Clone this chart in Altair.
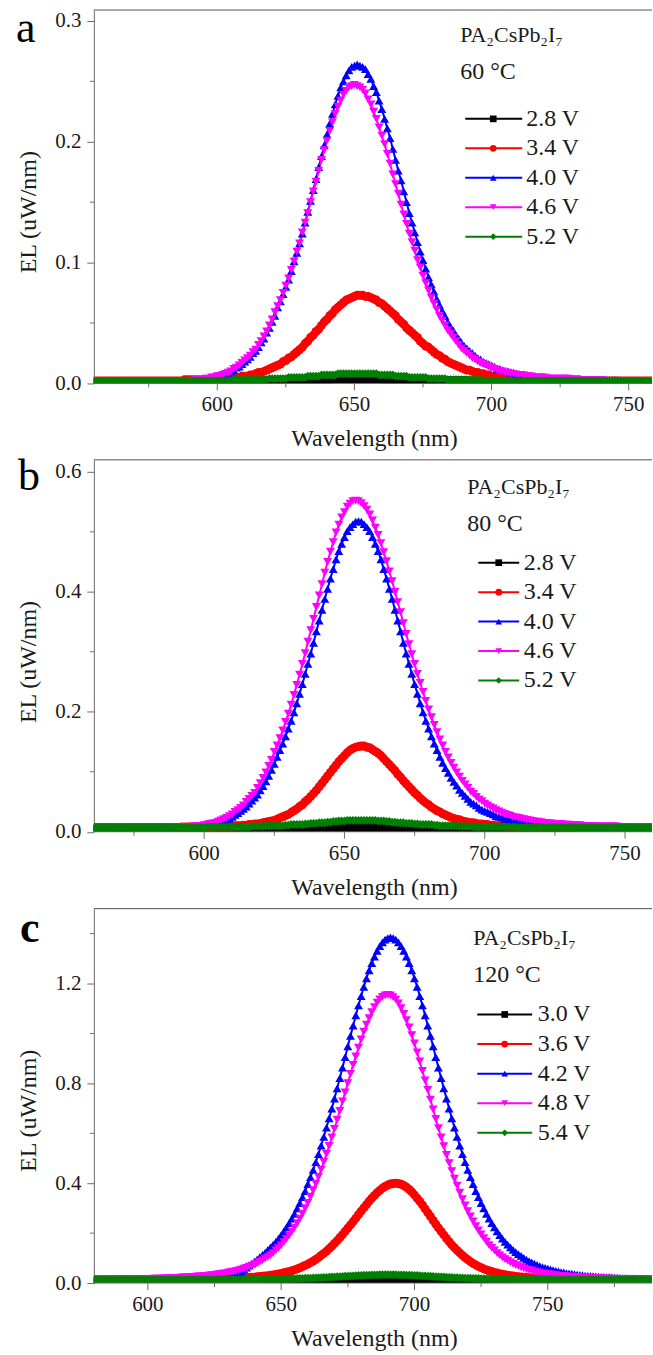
import altair as alt
import pandas as pd

FONT = "Liberation Serif"

# ---------------------------------------------------------------
# Data.  Wavelength grid: 1 nm steps starting
# at *_START.  EL values are given in nW/nm (1000 nW/nm = 1 uW/nm).
# Series order in every panel: black, red, blue, magenta, green.
# ---------------------------------------------------------------
A_START = 555
B_START = 560
C_START = 580

A_LABELS = ["2.8 V", "3.4 V", "4.0 V", "4.6 V", "5.2 V"]
B_LABELS = ["2.8 V", "3.4 V", "4.0 V", "4.6 V", "5.2 V"]
C_LABELS = ["3.0 V", "3.6 V", "4.2 V", "4.8 V", "5.4 V"]

# ---------------- panel a (60 C), 555..760 nm ----------------
A_BLACK = [
    1, 1, 1, 1, 1, 1, 1, 1, 1, 1,
    1, 1, 1, 1, 1, 1, 1, 1, 1, 1,
    1, 1, 1, 1, 1, 1, 1, 1, 1, 1,
    1, 1, 1, 1, 1, 1, 1, 1, 1, 1,
    1, 1, 1, 1, 1, 1, 1, 1, 1, 1,
    1, 1, 1, 1, 1, 1, 2, 2, 2, 2,
    2, 2, 2, 2, 2, 2, 2, 2, 2, 2,
    2, 2, 2, 2, 2, 2, 3, 3, 3, 3,
    3, 3, 3, 3, 3, 3, 3, 4, 4, 4,
    4, 4, 4, 4, 4, 4, 4, 4, 4, 4,
    4, 4, 4, 4, 4, 4, 3, 3, 3, 3,
    3, 3, 3, 3, 3, 3, 3, 2, 2, 2,
    2, 2, 2, 2, 2, 2, 2, 2, 2, 2,
    2, 2, 2, 2, 2, 2, 2, 1, 1, 1,
    1, 1, 1, 1, 1, 1, 1, 1, 1, 1,
    1, 1, 1, 1, 1, 1, 1, 1, 1, 1,
    1, 1, 1, 1, 1, 1, 1, 1, 1, 1,
    1, 1, 1, 1, 1, 1, 1, 1, 1, 1,
    1, 1, 1, 1, 1, 1, 1, 1, 1, 1,
    1, 1, 1, 1, 1, 1, 1, 1, 1, 1,
    1, 1, 1, 1, 1, 1,
]
A_RED = [
    2, 2, 2, 2, 2, 2, 2, 2, 2, 2,
    2, 2, 2, 2, 2, 2, 2, 2, 2, 2,
    2, 2, 2, 2, 2, 2, 2, 2, 2, 2,
    2, 2, 2, 3, 3, 3, 3, 3, 3, 3,
    3, 3, 3, 3, 4, 4, 4, 4, 4, 4,
    5, 5, 5, 5, 6, 6, 6, 7, 7, 8,
    9, 9, 10, 11, 12, 13, 14, 15, 16, 18,
    19, 21, 22, 24, 26, 28, 30, 33, 35, 38,
    40, 43, 45, 48, 51, 53, 56, 58, 61, 63,
    65, 67, 69, 70, 71, 72, 73, 73, 73, 72,
    72, 71, 70, 69, 67, 66, 64, 62, 60, 58,
    56, 53, 51, 49, 46, 44, 42, 40, 38, 35,
    33, 31, 30, 28, 26, 24, 23, 21, 20, 18,
    17, 16, 15, 14, 13, 12, 11, 11, 10, 9,
    9, 8, 8, 7, 7, 6, 6, 6, 6, 5,
    5, 5, 5, 4, 4, 4, 4, 4, 4, 4,
    3, 3, 3, 3, 3, 3, 3, 3, 3, 3,
    3, 3, 3, 3, 3, 3, 3, 3, 2, 2,
    2, 2, 2, 2, 2, 2, 2, 2, 2, 2,
    2, 2, 2, 2, 2, 2, 2, 2, 2, 2,
    2, 2, 2, 2, 2, 2,
]
A_BLUE = [
    2, 2, 2, 2, 2, 2, 2, 2, 2, 2,
    2, 2, 2, 2, 2, 2, 2, 2, 2, 2,
    2, 2, 2, 2, 2, 2, 2, 2, 2, 2,
    2, 2, 2, 2, 2, 2, 2, 3, 3, 3,
    3, 4, 4, 4, 5, 5, 6, 7, 8, 9,
    10, 11, 13, 14, 16, 18, 20, 22, 25, 27,
    30, 34, 37, 42, 46, 51, 56, 63, 68, 74,
    80, 86, 93, 101, 108, 116, 124, 133, 142, 151,
    160, 169, 179, 188, 197, 206, 215, 223, 231, 238,
    245, 250, 255, 259, 262, 263, 264, 263, 262, 260,
    256, 252, 246, 241, 234, 227, 219, 211, 203, 194,
    185, 176, 168, 159, 150, 141, 133, 125, 117, 109,
    102, 95, 88, 82, 76, 70, 65, 60, 56, 51,
    47, 44, 40, 37, 34, 31, 29, 27, 25, 23,
    21, 20, 18, 17, 16, 15, 14, 12, 12, 11,
    10, 10, 9, 9, 8, 8, 7, 7, 7, 6,
    6, 6, 5, 5, 5, 5, 5, 4, 4, 4,
    4, 4, 4, 4, 4, 3, 3, 3, 3, 3,
    3, 3, 3, 3, 3, 3, 3, 3, 3, 3,
    3, 3, 2, 2, 2, 2, 2, 2, 2, 2,
    2, 2, 2, 2, 2, 2,
]
A_MAGENTA = [
    2, 2, 2, 2, 2, 2, 2, 2, 2, 2,
    2, 2, 2, 2, 2, 2, 2, 2, 2, 2,
    2, 2, 2, 2, 2, 2, 2, 2, 2, 2,
    2, 2, 2, 2, 2, 2, 2, 3, 3, 3,
    3, 4, 4, 5, 5, 6, 6, 7, 8, 9,
    10, 12, 13, 15, 17, 19, 21, 23, 26, 28,
    32, 35, 39, 43, 48, 53, 59, 64, 69, 75,
    81, 87, 94, 101, 109, 116, 125, 133, 141, 150,
    159, 167, 176, 185, 193, 201, 209, 216, 223, 229,
    234, 239, 242, 245, 246, 247, 246, 245, 243, 240,
    235, 231, 225, 219, 212, 205, 198, 190, 182, 173,
    165, 157, 148, 140, 132, 124, 117, 110, 102, 96,
    89, 83, 77, 71, 66, 61, 56, 52, 48, 44,
    41, 38, 35, 32, 29, 27, 25, 23, 21, 20,
    18, 17, 16, 15, 14, 13, 12, 11, 10, 10,
    9, 9, 8, 8, 7, 7, 7, 6, 6, 6,
    5, 5, 5, 5, 5, 4, 4, 4, 4, 4,
    4, 4, 4, 4, 3, 3, 3, 3, 3, 3,
    3, 3, 3, 3, 3, 3, 2, 2, 2, 2,
    2, 2, 2, 2, 2, 2, 2, 2, 2, 2,
    2, 2, 2, 2, 2, 2,
]
A_GREEN = [
    2, 2, 2, 2, 2, 2, 2, 2, 2, 2,
    2, 2, 2, 2, 2, 2, 2, 2, 2, 2,
    2, 2, 2, 2, 2, 2, 2, 2, 2, 2,
    2, 2, 2, 2, 2, 2, 2, 2, 2, 2,
    2, 2, 2, 2, 2, 2, 2, 2, 2, 2,
    2, 3, 3, 3, 3, 3, 3, 3, 3, 3,
    3, 3, 3, 3, 4, 4, 4, 4, 4, 4,
    4, 5, 5, 5, 5, 5, 5, 5, 6, 6,
    6, 6, 6, 7, 7, 7, 7, 7, 7, 8,
    8, 8, 8, 8, 8, 8, 8, 8, 8, 8,
    8, 8, 8, 8, 7, 7, 7, 7, 7, 7,
    6, 6, 6, 6, 6, 5, 5, 5, 5, 5,
    5, 5, 4, 4, 4, 4, 4, 4, 4, 3,
    3, 3, 3, 3, 3, 3, 3, 3, 3, 3,
    3, 3, 2, 2, 2, 2, 2, 2, 2, 2,
    2, 2, 2, 2, 2, 2, 2, 2, 2, 2,
    2, 2, 2, 2, 2, 2, 2, 2, 2, 2,
    2, 2, 2, 2, 2, 2, 2, 2, 2, 2,
    2, 2, 2, 2, 2, 2, 2, 2, 2, 2,
    2, 2, 2, 2, 2, 2, 2, 2, 2, 2,
    2, 2, 2, 2, 2, 2,
]

# ---------------- panel b (80 C), 560..760 nm ----------------
B_BLACK = [
    4, 4, 4, 4, 4, 4, 4, 4, 4, 4,
    4, 4, 4, 4, 4, 4, 4, 4, 4, 4,
    4, 4, 4, 4, 4, 4, 4, 4, 4, 4,
    4, 4, 4, 4, 4, 4, 4, 4, 4, 4,
    4, 4, 4, 4, 4, 4, 4, 4, 4, 4,
    4, 4, 4, 4, 4, 4, 4, 5, 5, 5,
    5, 5, 5, 5, 5, 5, 5, 5, 5, 5,
    5, 5, 5, 5, 5, 5, 5, 6, 6, 6,
    6, 6, 6, 6, 6, 6, 6, 6, 7, 7,
    7, 7, 7, 7, 7, 7, 7, 7, 7, 7,
    7, 7, 7, 7, 7, 7, 7, 6, 6, 6,
    6, 6, 6, 6, 6, 6, 6, 6, 5, 5,
    5, 5, 5, 5, 5, 5, 5, 5, 5, 5,
    5, 5, 5, 5, 5, 5, 5, 5, 4, 4,
    4, 4, 4, 4, 4, 4, 4, 4, 4, 4,
    4, 4, 4, 4, 4, 4, 4, 4, 4, 4,
    4, 4, 4, 4, 4, 4, 4, 4, 4, 4,
    4, 4, 4, 4, 4, 4, 4, 4, 4, 4,
    4, 4, 4, 4, 4, 4, 4, 4, 4, 4,
    4, 4, 4, 4, 4, 4, 4, 4, 4, 4,
    4,
]
B_RED = [
    7, 7, 7, 7, 7, 7, 7, 7, 7, 7,
    7, 7, 7, 7, 7, 7, 7, 7, 7, 7,
    7, 7, 7, 7, 7, 7, 7, 7, 7, 7,
    7, 7, 8, 8, 8, 8, 8, 8, 8, 8,
    8, 8, 8, 8, 8, 9, 9, 9, 9, 9,
    9, 10, 10, 10, 11, 11, 12, 12, 13, 13,
    14, 15, 16, 17, 18, 19, 21, 23, 25, 27,
    29, 32, 35, 38, 42, 45, 50, 54, 59, 64,
    69, 75, 81, 87, 93, 99, 105, 111, 117, 122,
    127, 132, 136, 139, 141, 142, 143, 143, 141, 140,
    137, 134, 131, 127, 122, 117, 112, 107, 102, 96,
    91, 85, 80, 75, 70, 65, 61, 56, 52, 48,
    45, 41, 38, 35, 33, 30, 28, 26, 24, 22,
    21, 20, 18, 17, 16, 15, 15, 14, 13, 13,
    12, 12, 11, 11, 10, 10, 10, 10, 9, 9,
    9, 9, 9, 9, 9, 8, 8, 8, 8, 8,
    8, 8, 8, 8, 8, 8, 8, 8, 8, 8,
    8, 8, 7, 7, 7, 7, 7, 7, 7, 7,
    7, 7, 7, 7, 7, 7, 7, 7, 7, 7,
    7, 7, 7, 7, 7, 7, 7, 7, 7, 7,
    7,
]
B_BLUE = [
    7, 7, 7, 7, 7, 7, 7, 7, 7, 7,
    7, 7, 7, 7, 7, 7, 7, 7, 7, 7,
    7, 7, 7, 7, 7, 7, 7, 7, 7, 7,
    7, 7, 7, 8, 8, 8, 8, 9, 9, 10,
    10, 11, 11, 13, 14, 15, 16, 18, 20, 22,
    25, 28, 31, 35, 38, 42, 47, 52, 57, 62,
    69, 76, 84, 93, 103, 113, 125, 136, 147, 159,
    172, 185, 199, 214, 230, 246, 263, 280, 297, 315,
    334, 352, 370, 388, 405, 422, 438, 454, 468, 480,
    491, 501, 508, 513, 517, 518, 517, 513, 508, 501,
    491, 480, 468, 454, 438, 422, 405, 388, 370, 352,
    334, 315, 297, 280, 263, 246, 230, 214, 199, 185,
    172, 159, 147, 136, 125, 115, 106, 98, 90, 83,
    77, 70, 65, 60, 55, 50, 47, 44, 40, 37,
    35, 33, 31, 29, 26, 25, 24, 22, 21, 20,
    19, 18, 17, 17, 16, 15, 15, 14, 14, 13,
    13, 12, 12, 12, 11, 11, 11, 11, 10, 10,
    10, 10, 9, 9, 9, 9, 9, 9, 9, 8,
    8, 8, 8, 8, 8, 8, 8, 8, 8, 8,
    8, 8, 8, 8, 8, 8, 8, 8, 8, 8,
    8,
]
B_MAGENTA = [
    7, 7, 7, 7, 7, 7, 7, 7, 7, 7,
    7, 7, 7, 7, 7, 7, 7, 7, 7, 7,
    7, 7, 7, 7, 7, 7, 7, 7, 7, 7,
    7, 7, 8, 8, 8, 8, 9, 9, 10, 10,
    11, 12, 13, 14, 15, 17, 19, 21, 23, 26,
    29, 33, 36, 40, 44, 50, 55, 60, 65, 73,
    81, 90, 99, 110, 120, 133, 144, 156, 169, 183,
    197, 212, 228, 245, 262, 280, 298, 317, 336, 355,
    375, 394, 413, 432, 450, 467, 483, 499, 512, 524,
    533, 542, 547, 551, 552, 551, 548, 543, 537, 529,
    519, 507, 495, 481, 466, 451, 434, 418, 400, 383,
    366, 348, 330, 313, 296, 280, 263, 248, 233, 218,
    204, 191, 178, 166, 154, 144, 133, 124, 115, 107,
    99, 92, 85, 79, 73, 67, 63, 58, 54, 51,
    47, 44, 41, 39, 36, 34, 32, 30, 28, 27,
    25, 24, 23, 22, 21, 20, 19, 18, 17, 17,
    16, 15, 15, 14, 14, 13, 13, 13, 12, 12,
    12, 11, 11, 11, 11, 10, 10, 10, 10, 9,
    9, 9, 9, 9, 9, 9, 9, 9, 8, 8,
    8, 8, 8, 8, 8, 8, 8, 8, 8, 8,
    8,
]
B_GREEN = [
    7, 7, 7, 7, 7, 7, 7, 7, 7, 7,
    7, 7, 7, 7, 7, 7, 7, 7, 7, 7,
    7, 7, 7, 7, 7, 7, 7, 7, 7, 7,
    7, 7, 7, 7, 7, 7, 7, 7, 7, 7,
    7, 8, 8, 8, 8, 8, 8, 8, 8, 8,
    8, 8, 8, 8, 8, 8, 8, 9, 9, 9,
    9, 9, 10, 10, 10, 10, 10, 10, 10, 11,
    11, 12, 12, 12, 12, 12, 13, 13, 14, 14,
    14, 15, 15, 15, 16, 16, 17, 17, 18, 18,
    18, 19, 19, 19, 19, 19, 19, 19, 19, 19,
    19, 19, 18, 18, 18, 17, 17, 16, 16, 15,
    15, 15, 14, 14, 14, 13, 13, 12, 12, 12,
    12, 12, 11, 11, 10, 10, 10, 10, 10, 10,
    10, 9, 9, 9, 9, 9, 8, 8, 8, 8,
    8, 8, 8, 8, 8, 8, 8, 8, 8, 8,
    8, 8, 7, 7, 7, 7, 7, 7, 7, 7,
    7, 7, 7, 7, 7, 7, 7, 7, 7, 7,
    7, 7, 7, 7, 7, 7, 7, 7, 7, 7,
    7, 7, 7, 7, 7, 7, 7, 7, 7, 7,
    7, 7, 7, 7, 7, 7, 7, 7, 7, 7,
    7,
]

# ---------------- panel c (120 C), 580..790 nm ----------------
C_BLACK = [
    6, 6, 6, 6, 6, 6, 6, 6, 6, 6,
    6, 6, 6, 6, 6, 6, 6, 6, 6, 6,
    6, 6, 6, 6, 6, 6, 6, 6, 6, 6,
    6, 6, 6, 6, 6, 6, 6, 6, 6, 6,
    6, 6, 6, 6, 6, 6, 6, 6, 6, 6,
    6, 6, 6, 6, 6, 6, 6, 6, 6, 6,
    7, 7, 7, 7, 7, 7, 7, 7, 7, 7,
    7, 7, 7, 7, 7, 7, 7, 7, 7, 7,
    8, 8, 8, 8, 8, 8, 8, 8, 8, 8,
    8, 9, 9, 9, 9, 9, 9, 9, 9, 9,
    9, 9, 9, 10, 10, 10, 10, 10, 10, 10,
    10, 10, 10, 10, 10, 10, 10, 10, 9, 9,
    9, 9, 9, 9, 9, 9, 9, 9, 9, 9,
    8, 8, 8, 8, 8, 8, 8, 8, 8, 8,
    8, 7, 7, 7, 7, 7, 7, 7, 7, 7,
    7, 7, 7, 7, 7, 7, 7, 7, 7, 7,
    7, 6, 6, 6, 6, 6, 6, 6, 6, 6,
    6, 6, 6, 6, 6, 6, 6, 6, 6, 6,
    6, 6, 6, 6, 6, 6, 6, 6, 6, 6,
    6, 6, 6, 6, 6, 6, 6, 6, 6, 6,
    6, 6, 6, 6, 6, 6, 6, 6, 6, 6,
    6,
]
C_RED = [
    13, 13, 13, 13, 13, 13, 13, 13, 13, 13,
    13, 13, 13, 14, 14, 14, 14, 14, 14, 14,
    14, 14, 14, 14, 14, 14, 14, 14, 14, 14,
    14, 14, 14, 15, 15, 15, 15, 15, 15, 15,
    15, 16, 16, 16, 16, 17, 17, 17, 17, 18,
    18, 18, 19, 19, 20, 20, 21, 21, 22, 23,
    23, 25, 26, 27, 28, 29, 31, 32, 34, 36,
    38, 41, 43, 46, 49, 53, 57, 61, 66, 71,
    76, 82, 88, 95, 102, 111, 119, 128, 138, 148,
    159, 170, 182, 194, 207, 220, 233, 246, 260, 274,
    288, 301, 314, 328, 340, 351, 362, 371, 380, 387,
    393, 397, 399, 400, 399, 396, 391, 384, 375, 365,
    353, 340, 327, 313, 297, 282, 267, 251, 236, 221,
    207, 193, 179, 166, 153, 142, 131, 121, 111, 102,
    94, 86, 79, 73, 67, 62, 57, 53, 49, 46,
    42, 40, 37, 35, 33, 31, 29, 28, 26, 25,
    24, 23, 22, 21, 21, 20, 20, 19, 19, 18,
    18, 18, 17, 17, 17, 17, 16, 16, 16, 16,
    16, 15, 15, 15, 15, 15, 15, 15, 15, 15,
    14, 14, 14, 14, 14, 14, 14, 14, 14, 14,
    14, 14, 14, 14, 13, 13, 13, 13, 13, 13,
    13,
]
C_BLUE = [
    13, 13, 13, 13, 13, 13, 13, 13, 13, 13,
    13, 13, 13, 13, 13, 13, 13, 13, 13, 13,
    13, 13, 13, 13, 13, 13, 13, 13, 13, 13,
    13, 13, 13, 13, 13, 13, 13, 13, 13, 14,
    14, 14, 14, 15, 15, 16, 17, 18, 19, 21,
    23, 26, 29, 32, 39, 46, 54, 62, 70, 78,
    86, 95, 104, 113, 122, 133, 143, 154, 165, 178,
    192, 207, 223, 240, 258, 277, 299, 320, 344, 368,
    396, 424, 453, 484, 517, 551, 586, 623, 660, 699,
    739, 780, 821, 863, 905, 948, 990, 1031, 1072, 1112,
    1150, 1187, 1221, 1253, 1282, 1308, 1331, 1350, 1365, 1376,
    1382, 1385, 1382, 1376, 1365, 1350, 1331, 1308, 1282, 1253,
    1221, 1187, 1150, 1112, 1072, 1031, 990, 948, 905, 863,
    821, 780, 739, 699, 660, 623, 586, 551, 517, 484,
    453, 424, 396, 368, 344, 320, 299, 277, 258, 240,
    223, 207, 192, 178, 165, 154, 143, 133, 124, 116,
    109, 101, 94, 88, 83, 78, 73, 68, 64, 61,
    58, 55, 52, 49, 47, 44, 43, 40, 39, 38,
    36, 34, 33, 32, 30, 29, 29, 28, 27, 26,
    25, 25, 24, 24, 23, 22, 22, 21, 20, 20,
    20, 19, 19, 19, 18, 18, 18, 17, 17, 17,
    17,
]
C_MAGENTA = [
    14, 14, 14, 14, 14, 15, 15, 15, 15, 15,
    15, 15, 15, 16, 16, 16, 16, 16, 16, 17,
    17, 17, 18, 18, 18, 18, 19, 19, 20, 20,
    21, 21, 22, 23, 23, 24, 24, 25, 26, 27,
    27, 28, 29, 31, 32, 33, 35, 36, 38, 39,
    42, 44, 46, 48, 51, 54, 58, 61, 66, 70,
    74, 79, 85, 91, 98, 104, 112, 120, 131, 140,
    151, 164, 177, 191, 206, 222, 240, 258, 278, 300,
    321, 346, 372, 398, 425, 455, 486, 518, 550, 584,
    618, 655, 690, 728, 764, 801, 838, 874, 908, 943,
    976, 1007, 1035, 1061, 1085, 1106, 1124, 1137, 1147, 1153,
    1155, 1153, 1146, 1136, 1121, 1101, 1078, 1053, 1024, 993,
    960, 924, 888, 850, 812, 774, 735, 696, 658, 621,
    584, 549, 514, 481, 449, 418, 390, 362, 336, 311,
    288, 267, 247, 228, 211, 195, 180, 166, 152, 141,
    131, 120, 111, 103, 96, 90, 83, 77, 72, 68,
    63, 59, 55, 52, 50, 46, 44, 42, 39, 38,
    36, 35, 34, 32, 30, 29, 28, 27, 26, 26,
    24, 24, 23, 23, 22, 22, 21, 20, 20, 19,
    19, 18, 18, 18, 18, 17, 17, 17, 16, 16,
    16, 16, 16, 16, 16, 16, 15, 15, 15, 15,
    15,
]
C_GREEN = [
    13, 13, 13, 13, 13, 13, 13, 13, 13, 13,
    13, 13, 13, 13, 13, 13, 13, 13, 13, 13,
    13, 13, 13, 13, 13, 13, 13, 13, 13, 13,
    13, 13, 13, 13, 13, 13, 13, 13, 13, 13,
    13, 13, 13, 13, 13, 13, 13, 13, 14, 14,
    14, 14, 14, 14, 14, 14, 14, 14, 14, 14,
    14, 14, 14, 14, 15, 15, 15, 15, 15, 15,
    16, 16, 16, 17, 17, 17, 18, 18, 18, 19,
    19, 19, 20, 20, 21, 21, 22, 22, 23, 24,
    24, 25, 25, 26, 27, 27, 28, 28, 29, 30,
    30, 31, 31, 31, 32, 32, 32, 33, 33, 33,
    33, 33, 33, 33, 32, 32, 32, 31, 31, 31,
    30, 30, 29, 28, 28, 27, 27, 26, 25, 25,
    24, 24, 23, 22, 22, 21, 21, 20, 20, 19,
    19, 19, 18, 18, 18, 17, 17, 17, 16, 16,
    16, 15, 15, 15, 15, 15, 15, 14, 14, 14,
    14, 14, 14, 14, 14, 14, 14, 14, 14, 14,
    14, 14, 14, 13, 13, 13, 13, 13, 13, 13,
    13, 13, 13, 13, 13, 13, 13, 13, 13, 13,
    13, 13, 13, 13, 13, 13, 13, 13, 13, 13,
    13, 13, 13, 13, 13, 13, 13, 13, 13, 13,
    13,
]

# ---------------------------------------------------------------
KEYS = ["s1", "s2", "s3", "s4", "s5"]
COLORS = ["#000000", "#ff0000", "#0000ff", "#ff00ff", "#008000"]
SHAPES = ["square", "circle", "triangle-up", "triangle-down", "diamond"]
AXIS_COLOR = "#6a6a6a"
TEXT_COLOR = "#1a1a1a"
W = 559


def to_frame(start, arrays):
    rows = []
    for key, arr in zip(KEYS, arrays):
        for i, v in enumerate(arr):
            rows.append({"wl": start + i, "el": v / 1000.0, "s": key})
    return pd.DataFrame(rows)


def one_row(**kw):
    return pd.DataFrame({k: [v] for k, v in kw.items()})


color_enc = alt.Color("s:N", scale=alt.Scale(domain=KEYS, range=COLORS), legend=None)
shape_enc = alt.Shape("s:N", scale=alt.Scale(domain=KEYS, range=SHAPES), legend=None)


def make_panel(df, labels, c):
    h = c["h"]
    xs = alt.Scale(domain=c["xdom"], nice=False, zero=False)
    ys = alt.Scale(domain=c["ydom"], nice=False, zero=False)
    yaxis = alt.Axis(
        values=c["ymaj"], format=".1f", title="EL (uW/nm)", grid=False,
        domainColor=AXIS_COLOR, tickColor=AXIS_COLOR, tickSize=7, tickWidth=1,
        domainWidth=1, labelFont=FONT, labelFontSize=21, labelColor=TEXT_COLOR,
        labelPadding=6, titleFont=FONT, titleFontSize=24, titleFontWeight="normal",
        titleColor=TEXT_COLOR, titleAngle=270, titleX=-65, titleY=202,
        titleAlign="center", titleBaseline="middle",
    )

    lines = alt.Chart(df).mark_line(strokeWidth=2, clip=True).encode(
        x=alt.X("wl:Q", scale=xs, axis=None),
        y=alt.Y("el:Q", scale=ys, axis=yaxis),
        color=color_enc,
    )
    pts = alt.Chart(df).mark_point(filled=True, size=80, opacity=1, clip=True).encode(
        x=alt.X("wl:Q", scale=xs, axis=None),
        y=alt.Y("el:Q", scale=ys, axis=None),
        color=color_enc,
        shape=shape_enc,
    )
    # minor y ticks
    ymin = alt.Chart(pd.DataFrame({"v": c["ymin"]})).mark_rule(
        color=AXIS_COLOR, strokeWidth=1).encode(
        y=alt.Y("v:Q", scale=ys, axis=None), x=alt.value(-4), x2=alt.value(0))
    # x axis: baseline, major / minor ticks, labels, title
    xbase = alt.Chart(one_row(a=0)).mark_rule(color=AXIS_COLOR, strokeWidth=1).encode(
        x=alt.value(0), x2=alt.value(W), y=alt.value(h))
    xmin = alt.Chart(pd.DataFrame({"v": c["xmin"]})).mark_rule(
        color=AXIS_COLOR, strokeWidth=1).encode(
        x=alt.X("v:Q", scale=xs, axis=None), y=alt.value(h), y2=alt.value(h + 4))
    xmajdf = pd.DataFrame({"v": c["xmaj"], "lab": [str(v) for v in c["xmaj"]]})
    xmaj = alt.Chart(xmajdf).mark_rule(color=AXIS_COLOR, strokeWidth=1).encode(
        x=alt.X("v:Q", scale=xs, axis=None), y=alt.value(h), y2=alt.value(h + 7))
    xlab = alt.Chart(xmajdf).mark_text(
        font=FONT, fontSize=21, align="center", baseline="middle", color=TEXT_COLOR
    ).encode(x=alt.X("v:Q", scale=xs, axis=None), y=alt.value(h + 22), text="lab:N")
    xtitle = alt.Chart(one_row(t="Wavelength (nm)")).mark_text(
        font=FONT, fontSize=24, align="center", baseline="alphabetic", color=TEXT_COLOR
    ).encode(text="t:N", x=alt.value(281), y=alt.value(h + 63))
    topline = alt.Chart(one_row(a=0)).mark_rule(color="#505050", strokeWidth=1).encode(
        x=alt.value(0), x2=alt.value(W), y=alt.value(0))

    ann1 = alt.Chart(one_row(t="PA\u2082CsPb\u2082I\u2087")).mark_text(
        font=FONT, fontSize=22, align="left", baseline="alphabetic", color=TEXT_COLOR
    ).encode(text="t:N", x=alt.value(c["ax"]), y=alt.value(c["ay1"]))
    ann2 = alt.Chart(one_row(t=c["temp"])).mark_text(
        font=FONT, fontSize=24, align="left", baseline="alphabetic", color=TEXT_COLOR
    ).encode(text="t:N", x=alt.value(c["ax"]), y=alt.value(c["ay2"]))

    leg = pd.DataFrame({"s": KEYS, "lab": labels})
    ly = alt.Y("s:N", scale=alt.Scale(type="point", domain=KEYS,
                                       range=[c["ly0"], c["ly1"]], padding=0), axis=None)
    leg_line = alt.Chart(leg).mark_rule(strokeWidth=2).encode(
        y=ly, x=alt.value(c["lx0"]), x2=alt.value(c["lx1"]), color=color_enc)
    leg_pt = alt.Chart(leg).mark_point(filled=True, size=45, opacity=1).encode(
        y=ly, x=alt.value(c["lxm"]), color=color_enc, shape=shape_enc)
    leg_txt = alt.Chart(leg).mark_text(
        font=FONT, fontSize=24, align="left", baseline="middle", color=TEXT_COLOR
    ).encode(y=ly, x=alt.value(c["ltx"]), text="lab:N")

    letter = alt.Chart(one_row(t=c["letter"])).mark_text(
        font=FONT, fontSize=44, align="left", baseline="alphabetic",
        color="#000000", fontWeight=c["lw"]
    ).encode(text="t:N", x=alt.value(c["lex"]), y=alt.value(c["ley"]))

    return alt.layer(
        lines, pts, ymin, xbase, xmin, xmaj, xlab, xtitle, topline,
        ann1, ann2, leg_line, leg_pt, leg_txt, letter
    ).resolve_scale(y="independent").properties(width=W, height=h)


cfg_a = dict(h=374, xdom=[555, 758.5], ydom=[0, 0.309],
             xmaj=[600, 650, 700, 750], xmin=[575, 625, 675, 725],
             ymaj=[0.0, 0.1, 0.2, 0.3], ymin=[0.05, 0.15, 0.25],
             ax=367, ay1=32, ay2=69, temp="60 \u00b0C",
             ly0=109, ly1=227, lx0=372, lx1=429, lxm=400, ltx=433,
             letter="a", lw="normal", lex=-78, ley=32)
cfg_b = dict(h=372.5, xdom=[560.7, 759.6], ydom=[0, 0.62],
             xmaj=[600, 650, 700, 750], xmin=[575, 625, 675, 725],
             ymaj=[0.0, 0.2, 0.4, 0.6], ymin=[0.1, 0.3, 0.5],
             ax=374, ay1=34, ay2=71, temp="80 \u00b0C",
             ly0=103, ly1=221, lx0=385, lx1=426, lxm=405.5, ltx=430.5,
             letter="b", lw="normal", lex=-76, ley=30)
cfg_c = dict(h=375, xdom=[579.75, 789.1], ydom=[0, 1.5],
             xmaj=[600, 650, 700, 750], xmin=[625, 675, 725, 775],
             ymaj=[0.0, 0.4, 0.8, 1.2], ymin=[0.2, 0.6, 1.0, 1.4],
             ax=380, ay1=36, ay2=73, temp="120 \u00b0C",
             ly0=106, ly1=224.5, lx0=384, lx1=439, lxm=411.5, ltx=444.5,
             letter="c", lw="bold", lex=-74, ley=33.5)

df_a = to_frame(A_START, [A_BLACK, A_RED, A_BLUE, A_MAGENTA, A_GREEN])
df_b = to_frame(B_START, [B_BLACK, B_RED, B_BLUE, B_MAGENTA, B_GREEN])
df_c = to_frame(C_START, [C_BLACK, C_RED, C_BLUE, C_MAGENTA, C_GREEN])

chart = alt.vconcat(
    make_panel(df_a, A_LABELS, cfg_a),
    make_panel(df_b, B_LABELS, cfg_b),
    make_panel(df_c, C_LABELS, cfg_c),
    spacing=76.5,
    bounds="flush",
).properties(
    padding={"left": 15, "top": 5, "right": 0, "bottom": 0},
    background="white",
).configure_view(stroke="transparent")

chart.save("out.html", embed_options={"renderer": "svg", "actions": False})
